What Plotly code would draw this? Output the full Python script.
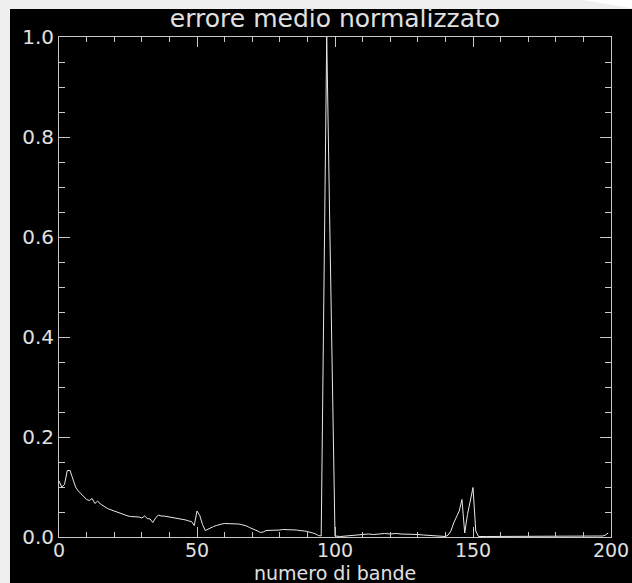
import plotly.graph_objects as go

bands = list(range(0, 101)) + [102, 104, 106, 108, 110, 112, 114, 116, 118, 120, 122, 124, 126, 128, 130,
                                132, 134, 136, 138, 140, 141, 142, 143, 144, 145, 146, 147, 148, 149, 150,
                                151, 152, 155, 160, 165, 170, 175, 180, 185, 190, 195, 197, 198, 199]
errore = [0.112, 0.100, 0.105, 0.133, 0.133, 0.118, 0.100, 0.092, 0.086, 0.080,
          0.075, 0.073, 0.077, 0.067, 0.072, 0.066, 0.062, 0.059, 0.056, 0.054,
          0.052, 0.049, 0.047, 0.045, 0.044, 0.042, 0.041, 0.041, 0.040, 0.040,
          0.038, 0.042, 0.037, 0.036, 0.029, 0.038, 0.044, 0.042, 0.042, 0.041,
          0.041, 0.039, 0.038, 0.037, 0.036, 0.035, 0.034, 0.032, 0.031, 0.023,
          0.052, 0.043, 0.025, 0.013, 0.016, 0.019, 0.021, 0.023, 0.025, 0.026,
          0.027, 0.027, 0.026, 0.026, 0.026, 0.026, 0.025, 0.024, 0.022, 0.019,
          0.017, 0.014, 0.012, 0.009, 0.010, 0.013, 0.013, 0.013, 0.013, 0.014,
          0.014, 0.015, 0.015, 0.015, 0.014, 0.014, 0.014, 0.013, 0.013, 0.012,
          0.011, 0.010, 0.008, 0.006, 0.003, 0.002, 0.50, 1.00, 0.66, 0.33,
          0.002,
          0.001, 0.002, 0.003, 0.005, 0.006, 0.006, 0.005, 0.006, 0.007, 0.006,
          0.007, 0.006, 0.006, 0.005, 0.005, 0.004, 0.003, 0.003, 0.002, 0.001,
          0.004, 0.012, 0.028, 0.042, 0.052, 0.075, 0.008, 0.045, 0.072, 0.099,
          0.012, 0.001, 0.001, 0.001, 0.001, 0.001, 0.001, 0.001, 0.001, 0.001,
          0.001, 0.002, 0.004, 0.008]

x_ticks = [0, 50, 100, 150, 200]
y_ticks = [0.0, 0.2, 0.4, 0.6, 0.8, 1.0]

title_text = "errore medio normalizzato"
xlabel_text = "numero di bande"

W, H = 632, 583
L, R, T, B = 59, 21, 37, 46
pw, ph = W - L - R, H - T - B

def px(xp):
    return (xp - L) / pw

def py(yp):
    return (H - B - yp) / ph

axis_col = "#c8c8c8"
text_col = "#e0e0e0"
font_fam = "DejaVu Sans"

fig = go.Figure()
fig.add_trace(go.Scatter(x=bands, y=errore, mode="lines",
                         line=dict(color="#e8e8e8", width=1), showlegend=False,
                         hoverinfo="skip"))

fig.update_layout(
    width=W, height=H,
    margin=dict(l=L, r=R, t=T, b=B, autoexpand=False),
    paper_bgcolor="#efefef",
    plot_bgcolor="black",
    title=dict(text=title_text, x=px(335), xref="paper", xanchor="center",
               y=1 - 18 / H, yref="container", yanchor="middle",
               font=dict(family=font_fam, size=25, color=text_col)),
    xaxis=dict(range=[0, 200], tickvals=x_ticks, ticktext=[str(v) for v in x_ticks],
               ticks="inside", ticklen=10, tickwidth=1, tickcolor=axis_col,
               showline=True, linecolor=axis_col, linewidth=1, mirror="allticks",
               showgrid=False, zeroline=False, ticklabelstandoff=-4,
               minor=dict(dtick=10, tick0=0, ticks="inside", ticklen=5, tickcolor=axis_col),
               tickfont=dict(family=font_fam, size=19, color=text_col)),
    yaxis=dict(range=[0, 1], tickvals=y_ticks, ticktext=[f"{v:.1f}" for v in y_ticks],
               ticks="inside", ticklen=11, tickwidth=1, tickcolor=axis_col,
               showline=True, linecolor=axis_col, linewidth=1, mirror="allticks",
               showgrid=False, zeroline=False,
               minor=dict(dtick=0.05, tick0=0, ticks="inside", ticklen=6, tickcolor=axis_col),
               tickfont=dict(family=font_fam, size=20, color=text_col)),
    annotations=[
        dict(text=xlabel_text, xref="paper", yref="paper", x=px(335), y=py(573),
             xanchor="center", yanchor="middle", showarrow=False,
             font=dict(family=font_fam, size=19, color=text_col)),
    ],
    shapes=[
        dict(type="rect", xref="paper", yref="paper", layer="below",
             x0=px(10), x1=px(W + 20), y0=py(H + 20), y1=py(9),
             fillcolor="black", line=dict(width=0)),
        dict(type="path", xref="paper", yref="paper", layer="below",
             path=f"M {px(583)} {py(0)} L {px(W + 5)} {py(0)} L {px(W + 5)} {py(9)} Z",
             fillcolor="white", line=dict(width=0)),
    ],
)

fig.write_html("out.html")
